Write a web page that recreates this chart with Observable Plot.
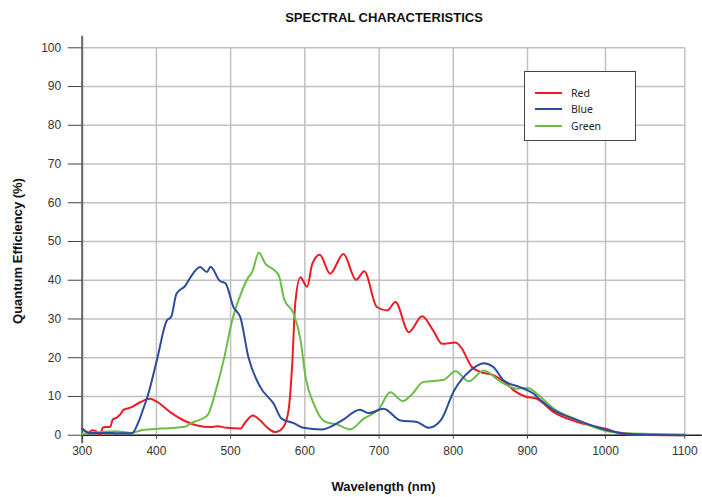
<!DOCTYPE html>
<html>
<head>
<meta charset="utf-8">
<script src="https://cdn.jsdelivr.net/npm/d3@7"></script>
<script src="https://cdn.jsdelivr.net/npm/@observablehq/plot@0.6"></script>
<style>
  html, body { margin: 0; padding: 0; background: #fff; }
  #wrap { position: relative; width: 702px; height: 497px; font-family: "Liberation Sans", Arial, sans-serif; }
  #title { height: 30px; box-sizing: border-box; width: 768px; text-align: center;
           font-weight: bold; font-size: 13px; line-height: 36px; color: #111; }
  #legend { position: absolute; left: 524px; top: 71px; width: 112px; height: 70px; box-sizing: border-box;
            border: 1.5px solid #444; background: #fff; font-family: "Noto Sans", "Open Sans", sans-serif;
            font-size: 10.5px; color: #222; }
  .item { position: absolute; left: 10px; height: 14px; display: flex; align-items: center; }
  .swatch { width: 27px; height: 2px; margin-right: 9px; }
</style>
</head>
<body>
<div id="wrap">
  <div id="title">SPECTRAL CHARACTERISTICS</div>
  <div id="chart"></div>
  <div id="legend"></div>
</div>
<script>
// ---- data ----
const seriesNames = ["Red", "Blue", "Green"];
const seriesColors = ["#ed1c24", "#2e4b9e", "#6cbd45"];

const redNm = [300, 309, 313, 318, 324, 328, 338, 341, 347, 351, 356, 365, 378, 391, 401, 419, 437, 455, 473, 482, 495, 513, 520, 530, 540, 551, 560, 571, 578, 583, 587, 594, 603, 610, 620, 634, 652, 669, 680, 697, 711, 722, 740, 758, 773, 785, 803, 810, 825, 837, 854, 872, 882, 897, 912, 934, 964, 1000, 1023, 1050, 1100];
const redQE = [1.7, 0.7, 1.3, 1.1, 0.1, 2.0, 2.2, 4.0, 4.6, 5.3, 6.6, 7.1, 8.5, 9.4, 8.6, 5.9, 3.8, 2.5, 2.1, 2.3, 1.9, 1.7, 3.4, 5.1, 3.8, 1.7, 0.8, 2.1, 6.4, 18.4, 33.9, 40.8, 38.3, 44.2, 46.6, 41.7, 46.8, 40.1, 42.3, 33.1, 32.2, 34.4, 26.6, 30.7, 27.0, 23.6, 23.9, 22.8, 17.6, 16.3, 15.5, 13.3, 11.5, 10.0, 9.4, 5.9, 3.4, 1.65, 0.3, 0.05, 0];

const blueNm = [300, 309, 330, 350, 367, 376, 383, 388, 401, 414, 420, 427, 439, 446, 459, 468, 473, 485, 493, 504, 513, 524, 540, 558, 569, 585, 598, 623, 650, 674, 686, 706, 729, 751, 767, 783, 801, 823, 841, 854, 868, 890, 908, 917, 934, 960, 1000, 1027, 1060, 1100];
const blueQE = [1.6, 0.6, 0.6, 0.5, 0.5, 3.5, 7.2, 10.0, 19.7, 29.6, 30.6, 36.5, 38.6, 40.8, 43.4, 42.1, 43.5, 39.9, 39.2, 33.0, 30.5, 20.1, 12.4, 8.1, 4.2, 3.1, 1.9, 1.5, 3.8, 6.6, 5.7, 6.8, 3.8, 3.4, 1.9, 3.8, 11.5, 16.7, 18.6, 17.6, 14.1, 12.4, 10.7, 9.0, 6.4, 4.2, 1.4, 0.35, 0.1, 0];

const greenNm = [300, 345, 365, 383, 405, 437, 450, 464, 470, 480, 491, 502, 513, 524, 529, 538, 547, 558, 565, 572, 585, 594, 601, 612, 628, 643, 661, 679, 700, 715, 732, 745, 759, 787, 803, 821, 841, 863, 886, 901, 912, 934, 964, 998, 1027, 1100];
const greenQE = [0.3, 1.0, 0.6, 1.4, 1.7, 2.1, 3.4, 4.5, 5.5, 11.5, 19.7, 29.6, 36.1, 40.8, 42.1, 47.1, 44.2, 42.7, 41.2, 35.2, 31.3, 24.8, 15.0, 8.1, 3.4, 2.8, 1.5, 4.2, 6.8, 11.1, 8.8, 10.7, 13.7, 14.3, 16.5, 13.9, 16.7, 13.9, 12.0, 12.2, 10.7, 6.8, 3.9, 1.2, 0.5, 0.2];

const xTicks = [300, 400, 500, 600, 700, 800, 900, 1000, 1100];
const yTicks = [0, 10, 20, 30, 40, 50, 60, 70, 80, 90, 100];
const xLabel = "Wavelength (nm)";
const yLabel = "Quantum Efficiency (%)";

// ---- build rows ----
const toRows = (nm, qe, name) => nm.map((d, i) => ({nm: d, qe: qe[i], series: name}));
const red = toRows(redNm, redQE, "Red");
const blue = toRows(blueNm, blueQE, "Blue");
const green = toRows(greenNm, greenQE, "Green");

const W = 702, H = 467;
const mL = 81.7, mR = 702 - 684.3, mT = 17.3, mB = H - 404.7;

const chart = Plot.plot({
  width: W,
  height: H,
  marginLeft: mL, marginRight: mR, marginTop: mT, marginBottom: mB,
  style: {fontFamily: "'Liberation Sans', Arial, sans-serif", fontSize: "12px", color: "#333", background: "#fff"},
  x: {type: "linear", domain: [300, 900, 1000, 1100], range: [81.7, 527, 605, 684.3]},
  y: {type: "linear", domain: [0, 100], range: [H - mB, mT]},
  marks: [
    Plot.gridX(xTicks, {stroke: "#c0c0c0", strokeOpacity: 1, strokeWidth: 1.5}),
    Plot.gridY(yTicks, {stroke: "#c0c0c0", strokeOpacity: 1, strokeWidth: 1.5}),
    Plot.ruleY([0], {x1: 300, x2: 1122, stroke: "#222", strokeWidth: 1.5}),
    Plot.ruleX([300], {y1: -2.2, y2: 103, stroke: "#666", strokeWidth: 2}),
    Plot.axisX({ticks: xTicks, tickSize: 4, tickPadding: 7, tickFormat: d => String(d), label: null, stroke: "#444", fill: "#333"}),
    Plot.axisY({ticks: yTicks, tickSize: 14, tickPadding: 7, tickFormat: d => String(d), label: null, stroke: "#444", fill: "#333"}),
    Plot.line(red, {x: "nm", y: "qe", stroke: seriesColors[0], strokeWidth: 2, curve: "monotone-x"}),
    Plot.line(green, {x: "nm", y: "qe", stroke: seriesColors[2], strokeWidth: 2, curve: "monotone-x"}),
    Plot.line(blue, {x: "nm", y: "qe", stroke: seriesColors[1], strokeWidth: 2, curve: "monotone-x"}),
    Plot.text([xLabel], {frameAnchor: "bottom", textAnchor: "middle", lineAnchor: "middle", dy: 51.5, fontWeight: "bold", fontSize: 13, fill: "#111"}),
    Plot.text([yLabel], {frameAnchor: "left", textAnchor: "middle", lineAnchor: "middle", dx: -64.5, dy: 9.5, rotate: -90, fontWeight: "bold", fontSize: 13, fill: "#111"})
  ]
});
document.getElementById("chart").appendChild(chart);

// ---- legend ----
const legend = document.getElementById("legend");
seriesNames.forEach((name, i) => {
  const item = document.createElement("div");
  item.className = "item";
  item.style.top = (13.5 + i * 16.5) + "px";
  const sw = document.createElement("div");
  sw.className = "swatch";
  sw.style.background = seriesColors[i];
  const label = document.createElement("span");
  label.textContent = name;
  item.appendChild(sw);
  item.appendChild(label);
  legend.appendChild(item);
});
</script>
</body>
</html>
